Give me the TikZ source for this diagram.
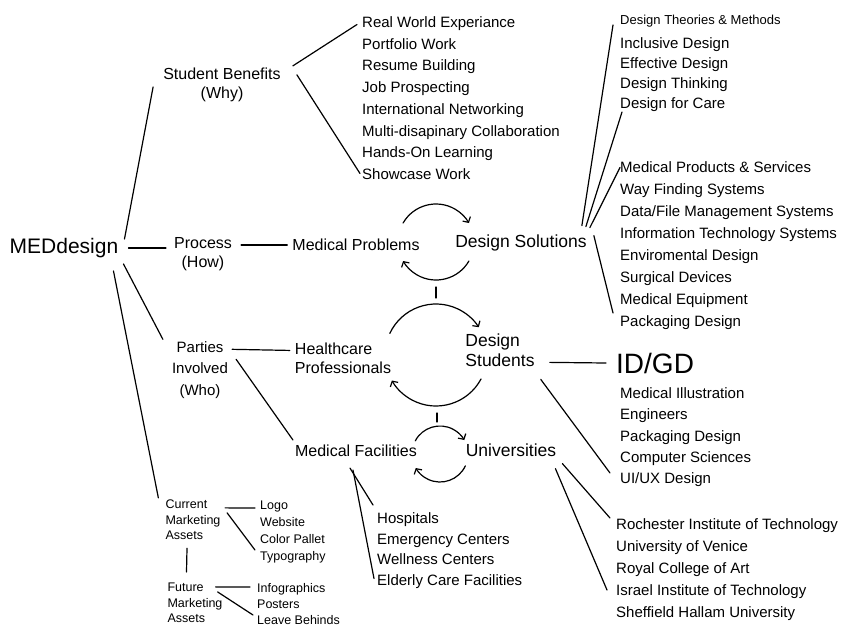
\documentclass[tikz,border=0pt]{standalone}
\usepackage{fontspec}
\setmainfont{Liberation Sans}
\usetikzlibrary{calc,arrows.meta}

\tikzset{
  root/.style={font=\fontsize{21}{24}\selectfont, inner sep=1pt},
  topic/.style={font=\fontsize{16}{19}\selectfont, align=center, inner sep=1pt},
  bigtopic/.style={font=\fontsize{17.5}{20}\selectfont, align=left, inner sep=1pt},
  minor/.style={font=\fontsize{12.5}{15.5}\selectfont, align=left, inner sep=1pt},
  itemlist/.style={font=\fontsize{15}{22}\selectfont, align=left, anchor=north west, inner sep=0pt},
  smalllist/.style={font=\fontsize{12.5}{17}\selectfont, align=left, anchor=north west, inner sep=0pt},
  link/.style={line width=1.2pt, line cap=round},
  turn/.style={line width=1.2pt, line cap=round, -{Straight Barb[length=4pt,width=9pt]}},
}

\begin{document}
\begin{tikzpicture}[x=1pt,y=-1pt]
            \path[use as bounding box, fill=white] (0,0) rectangle (853,627);

            % Nodes (main branches)
            \node[root] (med) at (64,248) {MEDdesign};
            \node[topic] (benefits) at (222,85) {Student Benefits\\(Why)};
            \node[topic] (process) at (203,254) {Process\\(How)};
            \node[topic, font=\fontsize{15}{21.5}\selectfont] (parties) at (200,370) {Parties\\Involved\\(Who)};
            \node[minor] (current) at (193,520) {Current\\Marketing\\Assets};
            \node[minor] (future) at (195,603) {Future\\Marketing\\Assets};

            % Nodes (process and parties)
            \node[topic] (problems) at (356,245) {Medical Problems};
            \node[bigtopic] (solutions) at (521,243) {Design Solutions};
            \node[topic, align=left] (healthcare) at (343,358) {Healthcare\\Professionals};
            \node[bigtopic] (students) at (500,350) {Design\\Students};
            \node[topic] (facilities) at (356,451) {Medical Facilities};
            \node[bigtopic] (universities) at (511,450) {Universities};
            \node[font=\fontsize{28}{30}\selectfont, anchor=west, inner sep=0pt] (idgd) at (616,363) {ID/GD};

            % Lists
            \node[itemlist, font=\fontsize{15}{21.7}\selectfont] (sblist) at (362,16.5) {Real World Experiance\\Portfolio Work\\Resume Building\\Job Prospecting\\International Networking\\Multi-disapinary Collaboration\\Hands-On Learning\\Showcase Work};
            \node[itemlist, font=\fontsize{15}{20}\selectfont] (theories) at (620,15) {{\fontsize{13}{13}\selectfont Design Theories \& Methods}\\[4pt]Inclusive Design\\Effective Design\\Design Thinking\\Design for Care};
            \node[itemlist] (products) at (620,161.5) {Medical Products \& Services\\Way Finding Systems\\Data/File Management Systems\\Information Technology Systems\\Enviromental Design\\Surgical Devices\\Medical Equipment\\Packaging Design};
            \node[itemlist, font=\fontsize{15}{21.3}\selectfont] (dlist) at (620,387.5) {Medical Illustration\\Engineers\\Packaging Design\\Computer Sciences\\UI/UX Design};
            \node[itemlist, font=\fontsize{15}{20.7}\selectfont] (hlist) at (377,512.5) {Hospitals\\Emergency Centers\\Wellness Centers\\Elderly Care Facilities};
            \node[itemlist] (ulist) at (616,518.5) {Rochester Institute of Technology\\University of Venice\\Royal College of Art\\Israel Institute of Technology\\Sheffield Hallam University};
            \node[smalllist] (clist) at (260,500.5) {Logo\\Website\\Color Pallet\\Typography};
            \node[smalllist, font=\fontsize{12.5}{16}\selectfont] (flist) at (257,583.5) {Infographics\\Posters\\Leave Behinds};

            % Cycle centres
            \coordinate (loopA) at (436,242);
            \coordinate (loopB) at (436,355);
            \coordinate (loopC) at (440,454);

            % Branches from MEDdesign
            \draw[link] ($(med.north east)+(5,2)$) -- ($(benefits.west)+(-9,2)$);
            \draw[link] ($(med.east)+(9,0)$) -- ($(process.west |- med.east)+(-7,0)$);
            \draw[link] ($(med.south east)+(4,5)$) -- ($(parties.north west)+(-8,-1)$);
            \draw[link] ($(med.south east)+(-6,12)$) -- ($(current.north west)+(-6,-1)$);

            % Student benefits
            \draw[link] ($(benefits.north east)+(11,-1)$) -- ($(sblist.north west)+(-5,8)$);
            \draw[link] ($(benefits.north east)+(15,8)$) -- ($(sblist.north west)+(-2,157)$);

            % Process
            \draw[link] ($(process.east |- problems.west)+(8,0)$) -- ($(problems.west)+(-4,0)$);
            \draw[link] ($(solutions.north east)+(-6,-8)$) -- ($(theories.north west)+(-7,10)$);
            \draw[link] ($(solutions.north east)+(-2,-7)$) -- ($(theories.north west)+(2,97)$);
            \draw[link] ($(solutions.north east)+(2,-6)$) -- ($(products.north west)+(0,6)$);
            \draw[link] ($(solutions.north east)+(6,2)$) -- ($(products.north west)+(-7,151.5)$);

            % Parties involved
            \draw[link] ($(parties.north east)+(3,9)$) -- ($(healthcare.north west)+(-4,9)$);
            \draw[link] ($(parties.north east)+(7,19)$) -- ($(facilities.north west)+(-1,-4)$);
            \draw[link] ($(students.north east)+(14,30)$) -- ($(idgd.west)+(-10,0)$);
            \draw[link] ($(students.north east)+(5,47)$) -- ($(dlist.north west)+(-10,85.5)$);
            \draw[link] ($(facilities.south)+(-6,10)$) -- ($(hlist.north west)+(-4,-7.5)$);
            \draw[link] ($(facilities.south)+(-3,12)$) -- ($(hlist.north west)+(-3,66)$);
            \draw[link] ($(universities.south east)+(5,6)$) -- ($(ulist.north west)+(-6,-0.5)$);
            \draw[link] ($(universities.south east)+(-2,11)$) -- ($(ulist.north west)+(-9,71.5)$);

            % Marketing assets
            \draw[link] ($(current.north east)+(3.5,9)$) -- ($(clist.north west)+(-5,7.5)$);
            \draw[link] ($(current.north east)+(5.5,14)$) -- ($(clist.north west)+(-5,49.5)$);
            \draw[link] ($(current.south)+(-6,7)$) -- ($(future.north)+(-8.5,-10)$);
            \draw[link] ($(future.north east)+(-8,5)$) -- ($(flist.north west)+(-7,3.5)$);
            \draw[link] ($(future.north east)+(-6,10)$) -- ($(flist.north west)+(-4,31.5)$);

            % Cycles
            \draw[turn] ($(loopA)+(150:38pt)$) arc[start angle=150, end angle=30, radius=38pt];
            \draw[turn] ($(loopA)+(-30:38pt)$) arc[start angle=-30, end angle=-150, radius=38pt];
            \draw[turn] ($(loopB)+(155:51pt)$) arc[start angle=155, end angle=33, radius=51pt];
            \draw[turn] ($(loopB)+(-28:51pt)$) arc[start angle=-28, end angle=-150, radius=51pt];
            \draw[turn] ($(loopC)+(152:28pt)$) arc[start angle=152, end angle=30, radius=28pt];
            \draw[turn] ($(loopC)+(-25:28pt)$) arc[start angle=-25, end angle=-150, radius=28pt];
            \draw[link] ($(loopA)+(0,45)$) -- ($(loopB)+(0,-57)$);
            \draw[link] ($(loopB)+(1,58)$) -- ($(loopC)+(-3,-32)$);
\end{tikzpicture}
\end{document}
